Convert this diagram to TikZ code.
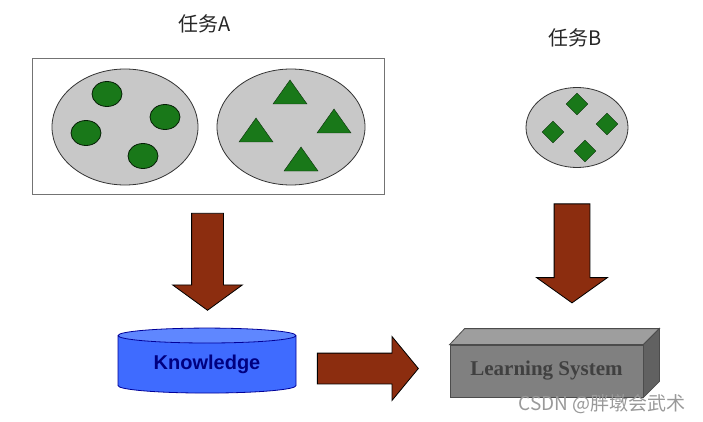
\documentclass[tikz,border=0pt]{standalone}
\usepackage{fontspec}
\setmainfont{Liberation Serif}
\setsansfont{Liberation Sans}
\newfontfamily\cjk{Noto Sans CJK SC}
\usetikzlibrary{shapes.geometric,shapes.arrows}
\definecolor{arrowred}{RGB}{140,45,15}
\definecolor{setgray}{RGB}{200,200,200}
\definecolor{dotgreen}{RGB}{25,120,25}
\definecolor{kbblue}{RGB}{63,107,255}
\definecolor{kbtop}{RGB}{95,135,255}
\tikzset{
  tasklabel/.style = {font = \cjk\fontsize{20}{22}\selectfont, text = black!85},
  dataset/.style = {ellipse, draw = black!80, thick, fill = setgray},
  dot/.style = {ellipse, draw = black!75!dotgreen, thick, fill = dotgreen,
    minimum width = 30pt, minimum height = 25pt, inner sep = 0pt},
  gem/.style = {diamond, draw = black!60!dotgreen, fill = dotgreen,
    minimum size = 22pt, inner sep = 0pt},
  tri/.pic = {\filldraw [draw = black!60!dotgreen, fill = dotgreen]
    (-17,12) -- (17,12) -- (0,-12) -- cycle;},
  bigarrow/.style = {single arrow, draw = black, thick, fill = arrowred,
    inner xsep = 0pt}
}
\begin{document}
\begin{tikzpicture}[x = 1pt, y = -1pt]
\useasboundingbox (0,0) rectangle (703,422);
% task A
\node [tasklabel] (labelA) at (205,24) {任务A};
\node [draw = black!55, thick, minimum width = 352pt, minimum height = 136pt,
  inner sep = 0pt] (boxA) at (208,126) {};
\node [dataset, minimum width = 146pt, minimum height = 116pt] (setA1) at (125,127) {};
\node [dataset, minimum width = 148pt, minimum height = 116pt] (setA2) at (291,127) {};
\node [dot] (c1) at (107,94) {};
\node [dot] (c2) at (86,133) {};
\node [dot] (c3) at (165,117) {};
\node [dot] (c4) at (143,156) {};
\pic at (290,92) {tri};
\pic at (256,130) {tri};
\pic at (334,121) {tri};
\pic at (301,159) {tri};
% task B
\node [tasklabel] (labelB) at (575,38) {任务B};
\node [dataset, minimum width = 102pt, minimum height = 80pt] (setB) at (577,127.5) {};
\node [gem] (d1) at (577,104) {};
\node [gem] (d2) at (553,132) {};
\node [gem] (d3) at (607,124) {};
\node [gem] (d4) at (585,151) {};
% arrows
\node [bigarrow, rotate = -90, minimum height = 97pt, inner ysep = 15.5pt,
  single arrow head extend = 19pt, single arrow tip angle = 108] (arrA) at (207.5,256) {};
\node [bigarrow, rotate = -90, minimum height = 99pt, inner ysep = 17.5pt,
  single arrow head extend = 17.5pt, single arrow tip angle = 109] (arrB) at (572,247) {};
\node [bigarrow, minimum height = 101pt, inner ysep = 15pt,
  single arrow head extend = 16.5pt, single arrow tip angle = 101] (arrK) at (361.5,368.5) {};
% knowledge base
\node [cylinder, shape border rotate = 90, draw = black!40!blue, thick,
  cylinder uses custom fill, cylinder body fill = kbblue, cylinder end fill = kbtop,
  minimum width = 178pt, minimum height = 65pt, aspect = 0.14, inner sep = 0pt,
  font = \sffamily\bfseries\fontsize{20}{22}\selectfont, text = black!50!blue]
  (kb) at (207,364.5) {\raisebox{-4pt}{Knowledge}};
% learning system
\node [draw = black!70, thick, fill = black!50, minimum width = 193pt,
  minimum height = 52pt, inner sep = 0pt,
  font = \bfseries\fontsize{21}{23}\selectfont, text = black!75] (lsys) at (546.5,371) {Learning System};
\filldraw [draw = black!70, thick, fill = black!38] (lsys.north west) -- ++(15,-16)
  -- ([shift = {(16,-16)}]lsys.north east) -- (lsys.north east) -- cycle;
\filldraw [draw = black!70, thick, fill = black!62] (lsys.north east)
  -- ++(16,-16) -- ([shift = {(16,-16)}]lsys.south east) -- (lsys.south east) -- cycle;
% watermark
\node [font = \cjk\fontsize{19}{21}\selectfont, text = black!40, anchor = east]
  (mark) at (689,404) {CSDN @胖墩会武术};
\end{tikzpicture}
\end{document}
